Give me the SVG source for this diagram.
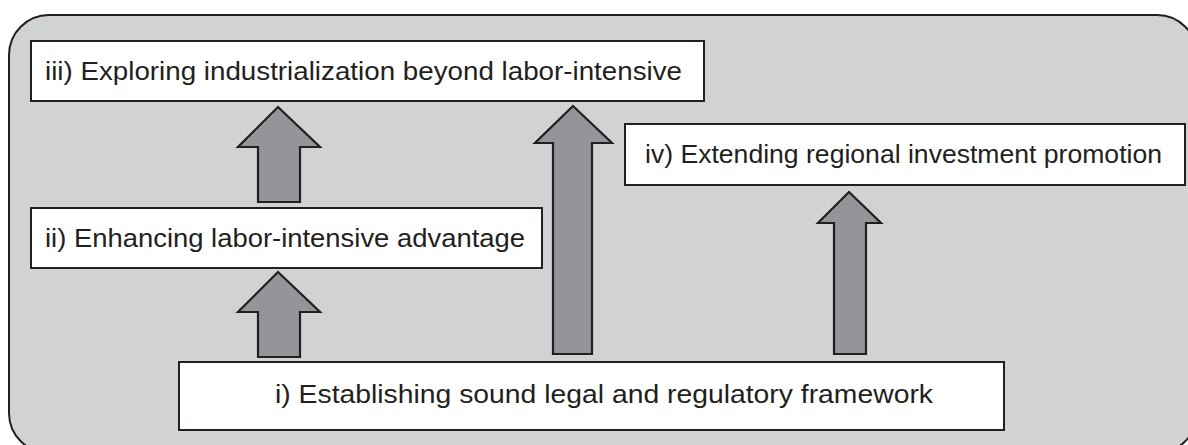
<svg xmlns="http://www.w3.org/2000/svg" width="1188" height="445" viewBox="0 0 1188 445">
<style>
.bg{fill:#d1d2d4;stroke:#231f20;stroke-width:2}
.box{fill:#ffffff;stroke:#231f20;stroke-width:2}
.arr{fill:#939598;stroke:#231f20;stroke-width:2.2;stroke-linejoin:miter}
.t{font-family:"Liberation Sans",Arial,sans-serif;font-size:25.5px;fill:#231f20}
</style>
<rect class="bg" x="9" y="15" width="1188" height="438" rx="40" ry="40"/>
<g id="connectors">
<polygon class="arr" points="278,107 320,147 300,147 300,202 258,202 258,147 238,147"/>
<polygon class="arr" points="278,272 320,312 300,312 300,357 258,357 258,312 238,312"/>
<polygon class="arr" points="573,106 612,143 592,143 592,354 553,354 553,143 535,143"/>
<polygon class="arr" points="849,192 881,223 866,223 866,354 834,354 834,223 818,223"/>
</g>
<g id="node-iii">
<rect class="box" x="31" y="41" width="673" height="60"/>
<text class="t" x="45" y="80" textLength="637" lengthAdjust="spacingAndGlyphs">iii) Exploring industrialization beyond labor-intensive</text>
</g>
<g id="node-ii">
<rect class="box" x="31" y="208" width="511" height="60"/>
<text class="t" x="45" y="247" textLength="480" lengthAdjust="spacingAndGlyphs">ii) Enhancing labor-intensive advantage</text>
</g>
<g id="node-iv">
<rect class="box" x="625" y="124" width="560" height="61"/>
<text class="t" x="645" y="163" textLength="517" lengthAdjust="spacingAndGlyphs">iv) Extending regional investment promotion</text>
</g>
<g id="node-i">
<rect class="box" x="179" y="362" width="825" height="68"/>
<text class="t" x="275" y="403" textLength="658" lengthAdjust="spacingAndGlyphs">i) Establishing sound legal and regulatory framework</text>
</g>
</svg>
